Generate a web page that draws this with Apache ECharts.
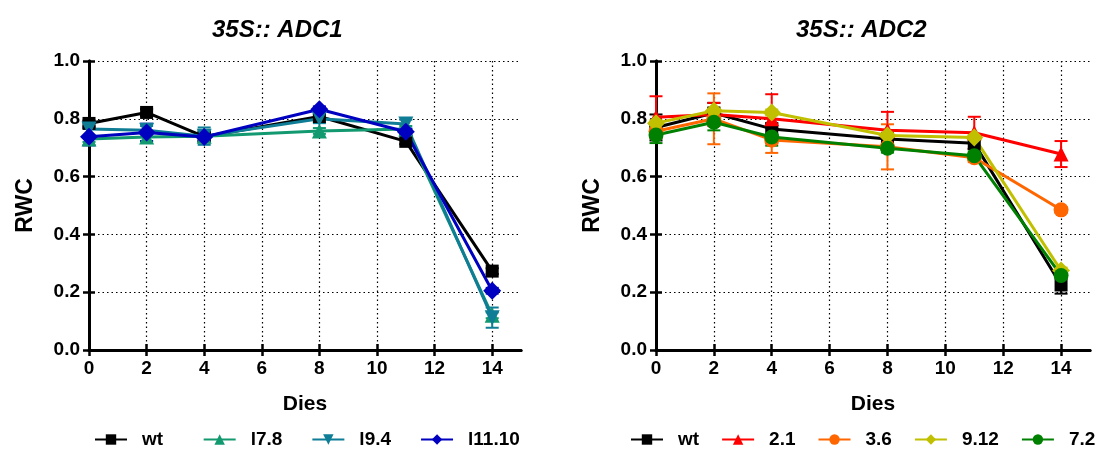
<!DOCTYPE html>
<html lang="en">
<head>
    <meta charset="UTF-8">
    <script src="https://cdn.jsdelivr.net/npm/echarts@6/dist/echarts.min.js"></script>
    <title>RWC 35S::ADC1 / ADC2</title>
    <style>
        html, body { margin: 0; padding: 0; background: #fff; }
        #main { width: 1102px; height: 451px; }
    </style>
</head>
<body>
    <div id="main"></div>
    <script>
        // days sampled
        var days = [0, 2, 4, 8, 11, 14];
        var xTicks = [0, 2, 4, 6, 8, 10, 12, 14];

        // 35S::ADC1 panel
        var adc1Names = ['wt', 'l7.8', 'l9.4', 'l11.10'];
        var adc1_wt = [0.784, 0.822, 0.738, 0.808, 0.722, 0.273];
        var adc1_wt_err = [0.01, 0.012, 0.015, 0.01, 0.01, 0.01];
        var adc1_l78 = [0.73, 0.737, 0.74, 0.758, 0.765, 0.12];
        var adc1_l78_err = [0.01, 0.015, 0.015, 0.01, 0.01, 0.01];
        var adc1_l94 = [0.765, 0.76, 0.74, 0.8, 0.782, 0.112];
        var adc1_l94_err = [0.025, 0.015, 0.03, 0.015, 0.015, 0.035];
        var adc1_l1110 = [0.738, 0.753, 0.737, 0.833, 0.755, 0.205];
        var adc1_l1110_err = [0.03, 0.03, 0.015, 0.01, 0.01, 0.01];

        // 35S::ADC2 panel
        var adc2Names = ['wt', '2.1', '3.6', '9.12', '7.2'];
        var adc2_wt = [0.77, 0.82, 0.765, 0.73, 0.715, 0.225];
        var adc2_wt_err = [0.045, 0.035, 0.02, 0.01, 0.02, 0.03];
        var adc2_21 = [0.805, 0.815, 0.80, 0.76, 0.752, 0.678];
        var adc2_21_err = [0.073, 0.04, 0.085, 0.064, 0.055, 0.045];
        var adc2_36 = [0.757, 0.80, 0.727, 0.703, 0.665, 0.485];
        var adc2_36_err = [0.02, 0.088, 0.045, 0.078, 0.015, 0.01];
        var adc2_912 = [0.785, 0.828, 0.822, 0.742, 0.735, 0.275];
        var adc2_912_err = [0.01, 0.01, 0.01, 0.01, 0.01, 0.01];
        var adc2_72 = [0.744, 0.788, 0.737, 0.698, 0.672, 0.258];
        var adc2_72_err = [0.028, 0.028, 0.03, 0.015, 0.015, 0.01];

        var FONT = '"Liberation Sans", Arial, sans-serif';
        var invTriangle = 'path://M0,0 L10,0 L5,9 Z';

        var chart = echarts.init(document.getElementById('main'));

        function pairs(values) {
            return days.map(function (d, i) { return [d, values[i]]; });
        }

        function errData(values, errs) {
            return days.map(function (d, i) { return [d, values[i], errs[i]]; });
        }

        function lineSeries(name, values, color, symbol, size, gi) {
            return {
                name: name, type: 'line', data: pairs(values),
                xAxisIndex: gi * 2, yAxisIndex: gi * 2,
                symbol: symbol, symbolSize: size, showSymbol: true,
                lineStyle: { color: color, width: 3 },
                itemStyle: { color: color },
                z: 3, animation: false
            };
        }

        function errSeries(name, values, errs, color, gi) {
            return {
                name: name + ' err', type: 'custom',
                xAxisIndex: gi * 2, yAxisIndex: gi * 2,
                data: errData(values, errs),
                encode: { x: 0, y: 1 },
                z: 2, silent: true, animation: false,
                renderItem: function (params, api) {
                    var x = api.value(0), y = api.value(1), e = api.value(2);
                    var top = api.coord([x, y + e]);
                    var bot = api.coord([x, y - e]);
                    var hw = 6.5;
                    var st = { stroke: color, lineWidth: 2 };
                    return {
                        type: 'group',
                        children: [
                            { type: 'line', shape: { x1: top[0], y1: top[1], x2: bot[0], y2: bot[1] }, style: st },
                            { type: 'line', shape: { x1: top[0] - hw, y1: top[1], x2: top[0] + hw, y2: top[1] }, style: st },
                            { type: 'line', shape: { x1: bot[0] - hw, y1: bot[1], x2: bot[0] + hw, y2: bot[1] }, style: st }
                        ]
                    };
                }
            };
        }

        var axisLabelStyle = { color: '#000', fontFamily: FONT, fontWeight: 'bold', fontSize: 19 };
        var frameLine = { show: true, lineStyle: { color: '#000', width: 3 } };
        var tickStyle = { show: true, length: 6, lineStyle: { color: '#000', width: 2.5 } };
        var dotted = { show: true, lineStyle: { color: '#000', type: [1.5, 3], width: 1.2 } };

        function xAxes(gi) {
            return [{
                gridIndex: gi, type: 'value', min: 0, max: 15, interval: 2,
                position: 'bottom',
                name: 'Dies', nameLocation: 'middle', nameGap: 44,
                nameTextStyle: { color: '#000', fontFamily: FONT, fontWeight: 'bold', fontSize: 21 },
                axisLine: frameLine,
                axisTick: Object.assign({ customValues: xTicks }, tickStyle),
                axisLabel: Object.assign({
                    customValues: xTicks, margin: 9,
                    formatter: function (v) { return v > 14 ? '' : String(v); }
                }, axisLabelStyle),
                splitLine: dotted
            }, {
                gridIndex: gi, type: 'value', min: 0, max: 15, interval: 2,
                position: 'top',
                axisLine: frameLine,
                axisTick: Object.assign({ customValues: xTicks }, tickStyle),
                axisLabel: { show: false },
                splitLine: { show: false }
            }];
        }

        function yAxes(gi) {
            return [{
                gridIndex: gi, type: 'value', min: 0, max: 1, interval: 0.2,
                position: 'left',
                name: 'RWC', nameLocation: 'middle', nameGap: 52, nameRotate: 90,
                nameTextStyle: { color: '#000', fontFamily: FONT, fontWeight: 'bold', fontSize: 23 },
                axisLine: frameLine,
                axisTick: tickStyle,
                axisLabel: Object.assign({
                    margin: 9,
                    formatter: function (v) { return v.toFixed(1); }
                }, axisLabelStyle),
                splitLine: dotted
            }, {
                gridIndex: gi, type: 'value', min: 0, max: 1, interval: 0.2,
                position: 'right',
                axisLine: frameLine,
                axisTick: tickStyle,
                axisLabel: { show: false },
                splitLine: { show: false }
            }];
        }

        var legendText = { color: '#000', fontFamily: FONT, fontWeight: 'bold', fontSize: 19, padding: [0, 0, 0, 10] };
        // the wt entry sits a little wider in the left legend of the original figure
        function legendFmt(name) { return name === 'wt' ? 'wt  ' : name; }

        var option = {
            backgroundColor: '#fff',
            animation: false,
            title: [
                { text: '35S:: ADC1', left: 207, top: 13,
                  textStyle: { color: '#000', fontFamily: FONT, fontWeight: 'bold', fontStyle: 'italic', fontSize: 24 } },
                { text: '35S:: ADC2', left: 791, top: 13,
                  textStyle: { color: '#000', fontFamily: FONT, fontWeight: 'bold', fontStyle: 'italic', fontSize: 24 } }
            ],
            grid: [
                { left: 89, top: 61, width: 432, height: 289 },
                { left: 656, top: 61, width: 434, height: 289 }
            ],
            xAxis: xAxes(0).concat(xAxes(1)),
            yAxis: yAxes(0).concat(yAxes(1)),
            legend: [
                { data: adc1Names, left: 94, top: 430, width: 470, padding: 0, itemWidth: 32, itemHeight: 13, itemGap: 29,
                  formatter: legendFmt, textStyle: legendText, selectedMode: false },
                { data: adc2Names, left: 630, top: 430, width: 472, padding: 0, itemWidth: 32, itemHeight: 13, itemGap: 22,
                  textStyle: legendText, selectedMode: false }
            ],
            series: [
                errSeries('wt', adc1_wt, adc1_wt_err, '#000000', 0),
                errSeries('l7.8', adc1_l78, adc1_l78_err, '#12996f', 0),
                errSeries('l9.4', adc1_l94, adc1_l94_err, '#0e7d95', 0),
                errSeries('l11.10', adc1_l1110, adc1_l1110_err, '#0000c0', 0),
                lineSeries('wt', adc1_wt, '#000000', 'rect', 13, 0),
                lineSeries('l7.8', adc1_l78, '#12996f', 'triangle', 15, 0),
                lineSeries('l9.4', adc1_l94, '#0e7d95', invTriangle, 15, 0),
                lineSeries('l11.10', adc1_l1110, '#0000c0', 'diamond', 18, 0),

                errSeries('wt', adc2_wt, adc2_wt_err, '#000000', 1),
                errSeries('2.1', adc2_21, adc2_21_err, '#ff0000', 1),
                errSeries('3.6', adc2_36, adc2_36_err, '#ff6600', 1),
                errSeries('9.12', adc2_912, adc2_912_err, '#c0c000', 1),
                errSeries('7.2', adc2_72, adc2_72_err, '#008000', 1),
                lineSeries('wt', adc2_wt, '#000000', 'rect', 13, 1),
                lineSeries('2.1', adc2_21, '#ff0000', 'triangle', 15, 1),
                lineSeries('3.6', adc2_36, '#ff6600', 'circle', 15, 1),
                lineSeries('9.12', adc2_912, '#c0c000', 'diamond', 18, 1),
                lineSeries('7.2', adc2_72, '#008000', 'circle', 15, 1)
            ]
        };

        chart.setOption(option);
    </script>
</body>
</html>
